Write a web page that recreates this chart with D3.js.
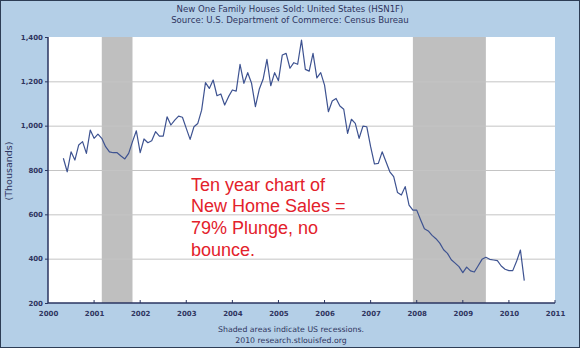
<!DOCTYPE html>
<html><head><meta charset="utf-8">
<script src="https://cdn.jsdelivr.net/npm/d3@7"></script>
<style>html,body{margin:0;padding:0;background:#fff;}svg{display:block;}</style>
</head><body>
<script>
// ---- data ----
const titleLines = ["New One Family Houses Sold: United States (HSN1F)", "Source: U.S. Department of Commerce: Census Bureau"];
const footerLines = ["Shaded areas indicate US recessions.", "2010 research.stlouisfed.org"];
const yAxisLabel = "(Thousands)";
const noteLines = ["Ten year chart of", "New Home Sales =", "79% Plunge, no", "bounce."];
const startYear = 2000, startMonth = 5; // May 2000, monthly
const sales = [
 853,792,882,845,913,928,875,980,943,962,943,905,
 882,878,878,863,850,875,928,977,878,940,923,932,
 973,953,953,1040,1003,1025,1043,1038,988,938,995,1010,
 1070,1194,1168,1206,1135,1143,1093,1131,1161,1156,1277,1191,
 1239,1191,1086,1164,1209,1299,1180,1239,1203,1319,1326,1259,
 1284,1277,1386,1254,1246,1326,1216,1239,1183,1063,1111,1123,
 1089,1074,965,1029,1010,943,998,995,905,827,830,882,
 837,792,770,698,687,725,642,619,619,576,535,525,
 505,490,470,440,424,395,380,364,337,362,345,340,
 368,397,406,397,394,391,367,352,346,346,388,439,
 301];
const recessions = [["2001-03-01","2001-11-01"],["2007-12-01","2009-07-01"]];
const yTicks = [200,400,600,800,1000,1200,1400];
const xTicks = [2000,2001,2002,2003,2004,2005,2006,2007,2008,2009,2010,2011];

// ---- chart ----
const W = 580, H = 348;
const svg = d3.select("body").append("svg").attr("width", W).attr("height", H);
const font = "DejaVu Sans, Verdana, sans-serif";
const txt = "#2f3560";

svg.append("rect").attr("x",0.5).attr("y",0.5).attr("width",W-1).attr("height",H-1)
  .attr("fill","#b4cfe7").attr("stroke","#2d3d55").attr("stroke-width",1);

const x = d3.scaleLinear().domain([2000, 2011]).range([48, 555]);
const y = d3.scaleLinear().domain([200, 1400]).range([303, 37]);
const toYear = s => { const d = new Date(s + "T00:00:00Z"); return d.getUTCFullYear() + d.getUTCMonth()/12 + (d.getUTCDate()-1)/365; };

// plot background
svg.append("rect").attr("x", x(2000)).attr("y", y(1400)).attr("width", x(2011)-x(2000)).attr("height", y(200)-y(1400)).attr("fill","#fff");

// recessions
svg.selectAll(".rec").data(recessions).enter().append("rect")
  .attr("x", d => x(toYear(d[0]))).attr("width", d => x(toYear(d[1])) - x(toYear(d[0])))
  .attr("y", y(1400)).attr("height", y(200)-y(1400)).attr("fill","#bfbfbf");

// gridlines
svg.selectAll(".grid").data(yTicks.filter(v => v > 200 && v < 1400)).enter().append("line")
  .attr("x1", x(2000)).attr("x2", x(2011)).attr("y1", d => y(d)+0.5).attr("y2", d => y(d)+0.5)
  .attr("stroke","#c4c4c4").attr("stroke-width",1);

// y axis
const yAxis = d3.axisLeft(y).tickValues(yTicks).tickFormat(d3.format(",")).tickSize(3).tickPadding(2);
const gy = svg.append("g").attr("transform", `translate(${x(2000)},0)`).call(yAxis);
gy.select(".domain").remove();
gy.selectAll(".tick line").attr("stroke","#2a3560");
gy.selectAll(".tick text").attr("font-family", font).attr("font-size", 7).attr("font-weight","bold").attr("fill", txt);

// x axis (ticks pointing inward)
const xAxis = d3.axisBottom(x).tickValues(xTicks).tickFormat(d3.format("d")).tickSize(0).tickPadding(8);
const gx = svg.append("g").attr("transform", `translate(0,${y(200)})`).call(xAxis);
gx.select(".domain").remove();
gx.selectAll(".tick text").attr("font-family", font).attr("font-size", 7).attr("font-weight","bold").attr("fill", txt);
svg.selectAll(".xt").data(xTicks.slice(1)).enter().append("line")
  .attr("x1", d => x(d)).attr("x2", d => x(d)).attr("y1", y(200)).attr("y2", y(200)-3)
  .attr("stroke","#2a3560").attr("stroke-width",1);

// axis lines
svg.append("line").attr("x1", x(2000)).attr("x2", x(2000)).attr("y1", y(1400)).attr("y2", y(200)).attr("stroke","#2a3560").attr("stroke-width",1.5);
svg.append("line").attr("x1", x(2000)).attr("x2", x(2011)).attr("y1", y(200)).attr("y2", y(200)).attr("stroke","#2a3560").attr("stroke-width",1.5);

// series
const pts = sales.map((v, i) => ({ t: startYear + (startMonth - 1 + i)/12, v }));
svg.append("path").datum(pts)
  .attr("d", d3.line().x(d => x(d.t)).y(d => y(d.v)))
  .attr("fill","none").attr("stroke","#3e5391").attr("stroke-width",1.2).attr("stroke-linejoin","round");

// titles
svg.selectAll(".title").data(titleLines).enter().append("text")
  .attr("x", 290).attr("y", (d,i) => 11.5 + i*11).attr("text-anchor","middle")
  .attr("font-family", font).attr("font-size", 8.6).attr("fill", txt).text(d => d);

svg.selectAll(".foot").data(footerLines).enter().append("text")
  .attr("x", 291).attr("y", (d,i) => 332 + i*10.5).attr("text-anchor","middle")
  .attr("font-family", font).attr("font-size", 7.8).attr("fill", txt).text(d => d);

svg.append("text").attr("transform", "translate(12,171) rotate(-90)").attr("text-anchor","middle")
  .attr("font-family", font).attr("font-size", 9.5).attr("fill", txt).text(yAxisLabel);

// annotation
svg.selectAll(".note").data(noteLines).enter().append("text")
  .attr("x", 191).attr("y", (d,i) => 190.5 + i*21.8)
  .attr("font-family", "Liberation Sans, Arial, sans-serif").attr("font-size", 18).attr("fill", "#e3212b").text(d => d);
</script>
</body></html>
